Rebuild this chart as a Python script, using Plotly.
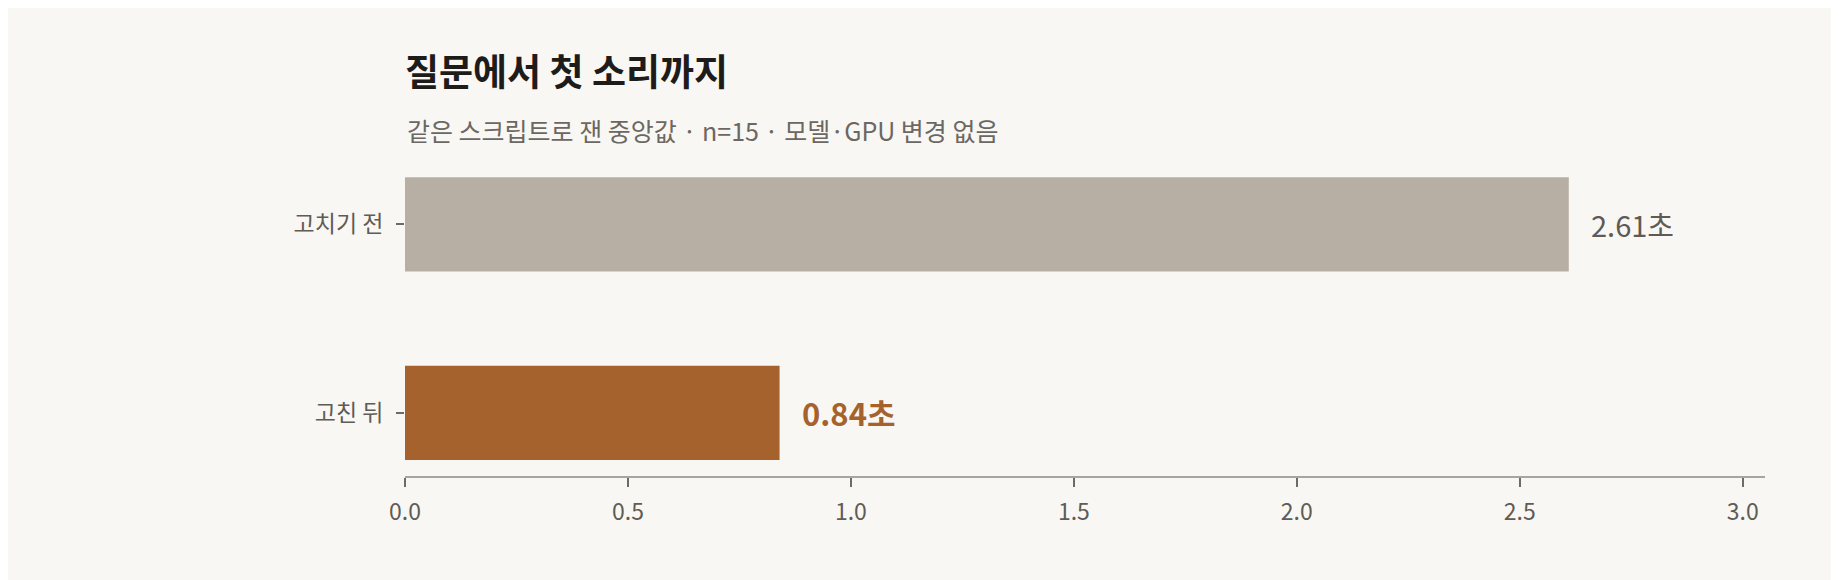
import plotly.graph_objects as go

# 데이터
categories = ["고친 뒤", "고치기 전"]
seconds = [0.84, 2.61]
bar_colors = ["#A5622D", "#B8AFA4"]
label_colors = ["#A5622D", "#5F5A55"]
label_weights = ["bold", "normal"]
label_sizes = [31, 29]
x_ticks = [0.0, 0.5, 1.0, 1.5, 2.0, 2.5, 3.0]

FONT = "Noto Sans CJK KR"

fig = go.Figure()
fig.add_trace(go.Bar(
    x=seconds,
    y=categories,
    orientation="h",
    marker=dict(color=bar_colors, line=dict(width=0)),
    width=0.5,
    hoverinfo="skip",
))

# 막대 끝 라벨
for cat, val, col, w, s in zip(categories, seconds, label_colors, label_weights, label_sizes):
    fig.add_annotation(
        x=val, y=cat, text=f"{val:.2f}초",
        xanchor="left", yanchor="middle", xshift=20, showarrow=False,
        font=dict(family=FONT, size=s, color=col, weight=w),
    )

# 부제
fig.add_annotation(
    xref="paper", yref="paper", x=0, y=1.0, xanchor="left", yanchor="middle",
    text="같은 스크립트로 잰 중앙값 · n=15 · 모델·GPU 변경 없음",
    showarrow=False, font=dict(family=FONT, size=25, color="#6B6762"),
)

fig.update_layout(
    width=1831, height=572,
    paper_bgcolor="#F9F7F3", plot_bgcolor="#F9F7F3",
    margin=dict(l=397, r=74, t=122, b=104),
    showlegend=False,
    title=dict(
        text="<b>질문에서 첫 소리까지</b>",
        xref="paper", x=0, xanchor="left",
        yref="container", y=0.886, yanchor="middle",
        font=dict(family=FONT, size=37, color="#1E1C1A"),
    ),
    xaxis=dict(
        range=[0, 3.05], tickvals=x_ticks, tickformat=".1f",
        showgrid=False, zeroline=False,
        showline=True, linecolor="#A9A49D", linewidth=2,
        ticks="outside", ticklen=9, tickwidth=2, tickcolor="#6E6A65",
        ticklabelstandoff=5,
        tickfont=dict(family=FONT, size=23, color="#5F5B56"),
    ),
    yaxis=dict(
        range=[-0.335, 1.5],
        showgrid=False, zeroline=False, showline=False,
        ticks="outside", ticklen=8, tickwidth=2, tickcolor="#6E6A65",
        ticklabelstandoff=8,
        tickfont=dict(family=FONT, size=23, color="#5F5B56"),
    ),
)

fig.write_html("out.html")
